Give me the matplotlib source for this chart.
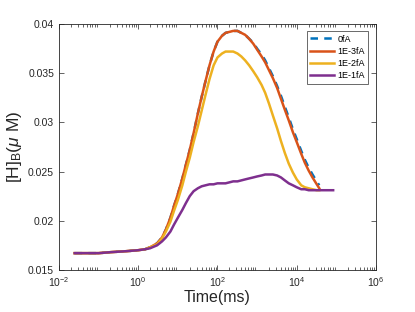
import matplotlib
matplotlib.use("Agg")
import matplotlib.pyplot as plt
from matplotlib.ticker import LogLocator, FixedLocator, NullFormatter

plt.rcParams['font.family'] = ['Liberation Sans', 'DejaVu Sans']
plt.rcParams['mathtext.fontset'] = 'custom'
plt.rcParams['mathtext.rm'] = 'Liberation Sans'
plt.rcParams['mathtext.it'] = 'Liberation Sans:italic'
plt.rcParams['mathtext.sf'] = 'Liberation Sans'

# time points (ms)
t = [0.025, 0.05, 0.1, 0.2, 0.5, 1, 1.5, 2, 3, 4, 5, 6.5, 8, 10, 13, 16, 20,
     25, 32, 40, 50, 63, 80, 100, 130, 160, 200, 250, 320, 400, 500, 630,
     800, 1000, 1300, 1600, 2000, 2500, 3200, 4000, 5000, 6300, 8000, 10000,
     13000, 16000, 20000, 25000, 32000, 37000]

y_0fA = [0.0167, 0.0167, 0.0167, 0.0168, 0.0169, 0.0170, 0.0171, 0.0173,
         0.0177, 0.0183, 0.0191, 0.0203, 0.0215, 0.0227, 0.0243, 0.0257,
         0.0272, 0.0289, 0.0309, 0.0326, 0.0342, 0.0358, 0.0372, 0.0382,
         0.0388, 0.0391, 0.0392, 0.0393, 0.0393, 0.0391, 0.0389, 0.0385,
         0.0381, 0.0375, 0.0369, 0.0363, 0.0355, 0.0347, 0.0337, 0.0327,
         0.0316, 0.0305, 0.0293, 0.0283, 0.0271, 0.0262, 0.0254, 0.0247,
         0.0240, 0.0236]

y_1e3 = [0.0167, 0.0167, 0.0167, 0.0168, 0.0169, 0.0170, 0.0171, 0.0173,
         0.0177, 0.0183, 0.0191, 0.0203, 0.0215, 0.0227, 0.0243, 0.0257,
         0.0272, 0.0289, 0.0309, 0.0326, 0.0342, 0.0358, 0.0372, 0.0382,
         0.0388, 0.0391, 0.0392, 0.0393, 0.0393, 0.0391, 0.0389, 0.0385,
         0.0380, 0.0374, 0.0367, 0.0361, 0.0353, 0.0345, 0.0335, 0.0324,
         0.0313, 0.0302, 0.0290, 0.0280, 0.0268, 0.0259, 0.0251, 0.0244,
         0.0237, 0.0233]

y_1e2 = [0.0167, 0.0167, 0.0167, 0.0168, 0.0169, 0.0170, 0.0171, 0.0173,
         0.0176, 0.0182, 0.0189, 0.0199, 0.0210, 0.0221, 0.0236, 0.0250,
         0.0264, 0.0280, 0.0296, 0.0312, 0.0328, 0.0344, 0.0358, 0.0366,
         0.0370, 0.0372, 0.0372, 0.0372, 0.0370, 0.0367, 0.0363, 0.0358,
         0.0352, 0.0346, 0.0338, 0.0330, 0.0319, 0.0307, 0.0294, 0.0281,
         0.0269, 0.0258, 0.0249, 0.0242, 0.0236, 0.0234, 0.0233, 0.0232,
         0.0231, 0.0231]

t_1e1 = t + [50000, 83000]
y_1e1 = [0.0167, 0.0167, 0.0167, 0.0168, 0.0169, 0.0170, 0.0171, 0.0172,
         0.0175, 0.0179, 0.0183, 0.0189, 0.0196, 0.0203, 0.0211, 0.0218,
         0.0225, 0.0230, 0.0233, 0.0235, 0.0236, 0.0237, 0.0237, 0.0238,
         0.0238, 0.0238, 0.0239, 0.0240, 0.0240, 0.0241, 0.0242, 0.0243,
         0.0244, 0.0245, 0.0246, 0.0247, 0.0247, 0.0247, 0.0246, 0.0244,
         0.0241, 0.0238, 0.0236, 0.0234, 0.0232, 0.0232, 0.0231, 0.0231,
         0.0231, 0.0231, 0.0231, 0.0231]

labels = ['0fA', '1E-3fA', '1E-2fA', '1E-1fA']
colors = ['#0072BD', '#D95319', '#EDB120', '#7E2F8E']

fig = plt.figure(figsize=(4.15, 3.12), dpi=100)
ax = fig.add_axes([0.142, 0.135, 0.764, 0.788])

lw = 1.8
ax.plot(t, y_0fA, color=colors[0], lw=lw, linestyle=(0, (3, 2.5)), label=labels[0])
ax.plot(t, y_1e3, color=colors[1], lw=lw, label=labels[1])
ax.plot(t, y_1e2, color=colors[2], lw=lw, label=labels[2])
ax.plot(t_1e1, y_1e1, color=colors[3], lw=lw, label=labels[3])

ax.set_xscale('log')
ax.set_xlim(1e-2, 1e6)
ax.set_ylim(0.015, 0.04)
ax.xaxis.set_major_locator(FixedLocator([1e-2, 1, 1e2, 1e4, 1e6]))
ax.xaxis.set_minor_locator(LogLocator(base=10, subs=range(2, 10), numticks=20))
ax.xaxis.set_minor_formatter(NullFormatter())
ax.set_yticks([0.015, 0.02, 0.025, 0.03, 0.035, 0.04])
ax.set_yticklabels(['0.015', '0.02', '0.025', '0.03', '0.035', '0.04'])

gray = '#262626'
for s in ax.spines.values():
    s.set_color(gray)
    s.set_linewidth(0.6)
ax.tick_params(which='both', direction='in', top=True, right=True,
               colors=gray, labelsize=7.5, width=0.5)
ax.tick_params(which='major', length=3.5)
ax.tick_params(which='minor', length=2)
for lab in ax.get_xticklabels() + ax.get_yticklabels():
    lab.set_color(gray)

ax.set_xlabel('Time(ms)', fontsize=11.5, color=gray, labelpad=1)
ax.set_ylabel(r'[H]$_\mathrm{B}$($\mu$ M)', fontsize=12.5, color=gray, labelpad=3)

leg = ax.legend(loc='upper right', bbox_to_anchor=(0.976, 0.972), borderaxespad=0,
                fontsize=6.5, frameon=True, fancybox=False, handlelength=2.6,
                handletextpad=0.4, labelspacing=0.35, borderpad=0.4)
leg.get_frame().set_edgecolor(gray)
leg.get_frame().set_linewidth(0.6)

fig.savefig('out.png', dpi=100)
